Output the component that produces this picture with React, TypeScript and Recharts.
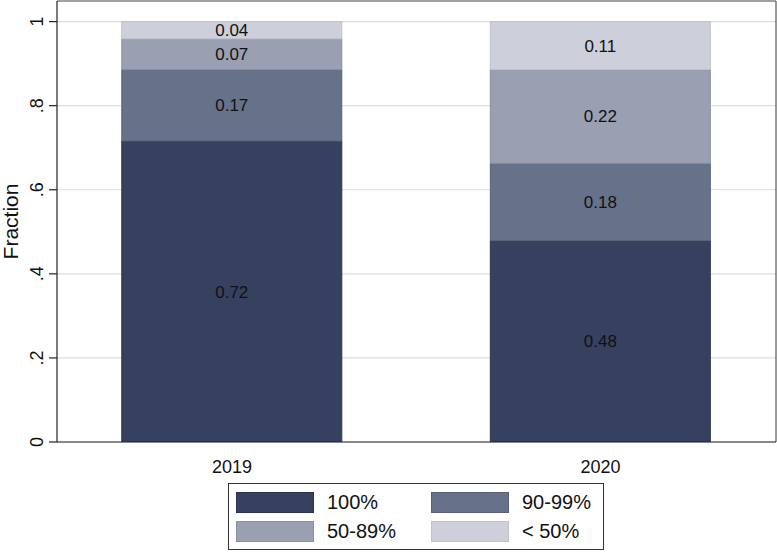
import React from "react";
import {
  BarChart,
  Bar,
  XAxis,
  YAxis,
  CartesianGrid,
  ReferenceLine,
  LabelList,
} from "recharts";

// data
const years = ["2019", "2020"];
const share100 = [0.716, 0.479];
const share90to99 = [0.17, 0.184];
const share50to89 = [0.073, 0.223];
const shareUnder50 = [0.041, 0.114];

const yTicks = [0, 0.2, 0.4, 0.6, 0.8, 1];
const yTickLabels = ["0", ".2", ".4", ".6", ".8", "1"];

const seriesKeys = ["s100", "s90", "s50", "s0"];
const seriesNames = ["100%", "90-99%", "50-89%", "< 50%"];
const seriesFill = ["#35415f", "#66728a", "#9a9fb2", "#cdd0da"];
const seriesStroke = ["#2a3450", "#586379", "#8a90a4", "#bfc2cd"];

const data = years.map((year, i) => ({
  pos: i,
  year,
  s100: share100[i],
  s90: share90to99[i],
  s50: share50to89[i],
  s0: shareUnder50[i],
}));

const FONT = "'Liberation Sans', Arial, sans-serif";
const X_MIN = -0.475;
const X_MAX = 1.476;
const Y_MAX = 1.049;

const YTick = (props: any) => {
  const { x, y, payload } = props;
  const i = yTicks.indexOf(payload.value);
  const bx = x - 6;
  return (
    <text
      x={bx}
      y={y}
      transform={`rotate(-90, ${bx}, ${y})`}
      textAnchor="middle"
      fontSize={18}
      fontFamily={FONT}
      fill="#111"
    >
      {i >= 0 ? yTickLabels[i] : payload.value}
    </text>
  );
};

const XTick = (props: any) => {
  const { x, y, payload } = props;
  return (
    <text
      x={x}
      y={y}
      dy={29}
      textAnchor="middle"
      fontSize={18}
      fontFamily={FONT}
      fill="#111"
    >
      {years[payload.value] ?? ""}
    </text>
  );
};

const FractionLabel = (props: any) => {
  const { viewBox } = props;
  const cx = viewBox.x + 18;
  const cy = viewBox.y + viewBox.height / 2;
  return (
    <text
      x={cx}
      y={cy}
      transform={`rotate(-90, ${cx}, ${cy})`}
      textAnchor="middle"
      fontSize={21}
      fontFamily={FONT}
      fill="#111"
    >
      Fraction
    </text>
  );
};

function ChartLegend() {
  const cols = [8, 203];
  const rows = [9, 38];
  return (
    <div
      style={{
        position: "absolute",
        left: 228,
        top: 483,
        width: 376,
        height: 67,
        boxSizing: "border-box",
        border: "1px solid #333",
        background: "#fff",
        fontFamily: FONT,
      }}
    >
      {seriesNames.map((name, i) => (
        <div
          key={name}
          style={{
            position: "absolute",
            left: cols[i % 2] - 1,
            top: rows[Math.floor(i / 2)] - 1,
            display: "flex",
            alignItems: "center",
          }}
        >
          <div
            style={{
              width: 78,
              height: 21,
              boxSizing: "border-box",
              background: seriesFill[i],
              border: `1px solid ${seriesStroke[i]}`,
            }}
          />
          <span
            style={{
              marginLeft: 13,
              fontSize: 20,
              color: "#111",
              lineHeight: "21px",
            }}
          >
            {name}
          </span>
        </div>
      ))}
    </div>
  );
}

export default function App() {
  return (
    <div
      style={{
        position: "absolute",
        left: 0,
        top: 0,
        width: 777,
        height: 552,
        background: "#fff",
      }}
    >
      <BarChart
        width={777}
        height={552}
        data={data}
        margin={{ top: 1, right: 1, left: 0, bottom: 70 }}
      >
        <CartesianGrid
          horizontal
          vertical={false}
          stroke="#dedede"
          strokeWidth={1.2}
        />
        <XAxis
          type="number"
          dataKey="pos"
          domain={[X_MIN, X_MAX]}
          ticks={[0, 1]}
          allowDataOverflow
          tick={<XTick />}
          tickLine={false}
          tickSize={0}
          height={40}
          axisLine={{ stroke: "#222", strokeWidth: 1.2 }}
        />
        <YAxis
          type="number"
          domain={[0, Y_MAX]}
          ticks={yTicks}
          allowDataOverflow
          width={57}
          tickSize={8}
          tickMargin={0}
          tick={<YTick />}
          tickLine={{ stroke: "#222", strokeWidth: 1.2 }}
          axisLine={{ stroke: "#222", strokeWidth: 1.2 }}
          label={<FractionLabel />}
        />
        {seriesKeys.map((key, i) => (
          <Bar
            key={key}
            dataKey={key}
            name={seriesNames[i]}
            stackId="a"
            barSize={220}
            fill={seriesFill[i]}
            stroke={seriesStroke[i]}
            strokeWidth={1}
            isAnimationActive={false}
          >
            <LabelList
              dataKey={key}
              position="center"
              formatter={(v: any) => Number(v).toFixed(2)}
              fill="#111"
              fontSize={17}
              fontFamily={FONT}
            />
          </Bar>
        ))}
        <ReferenceLine y={Y_MAX} stroke="#555" strokeWidth={1.2} />
        <ReferenceLine x={X_MAX} stroke="#555" strokeWidth={1.2} />
      </BarChart>
      <ChartLegend />
    </div>
  );
}
